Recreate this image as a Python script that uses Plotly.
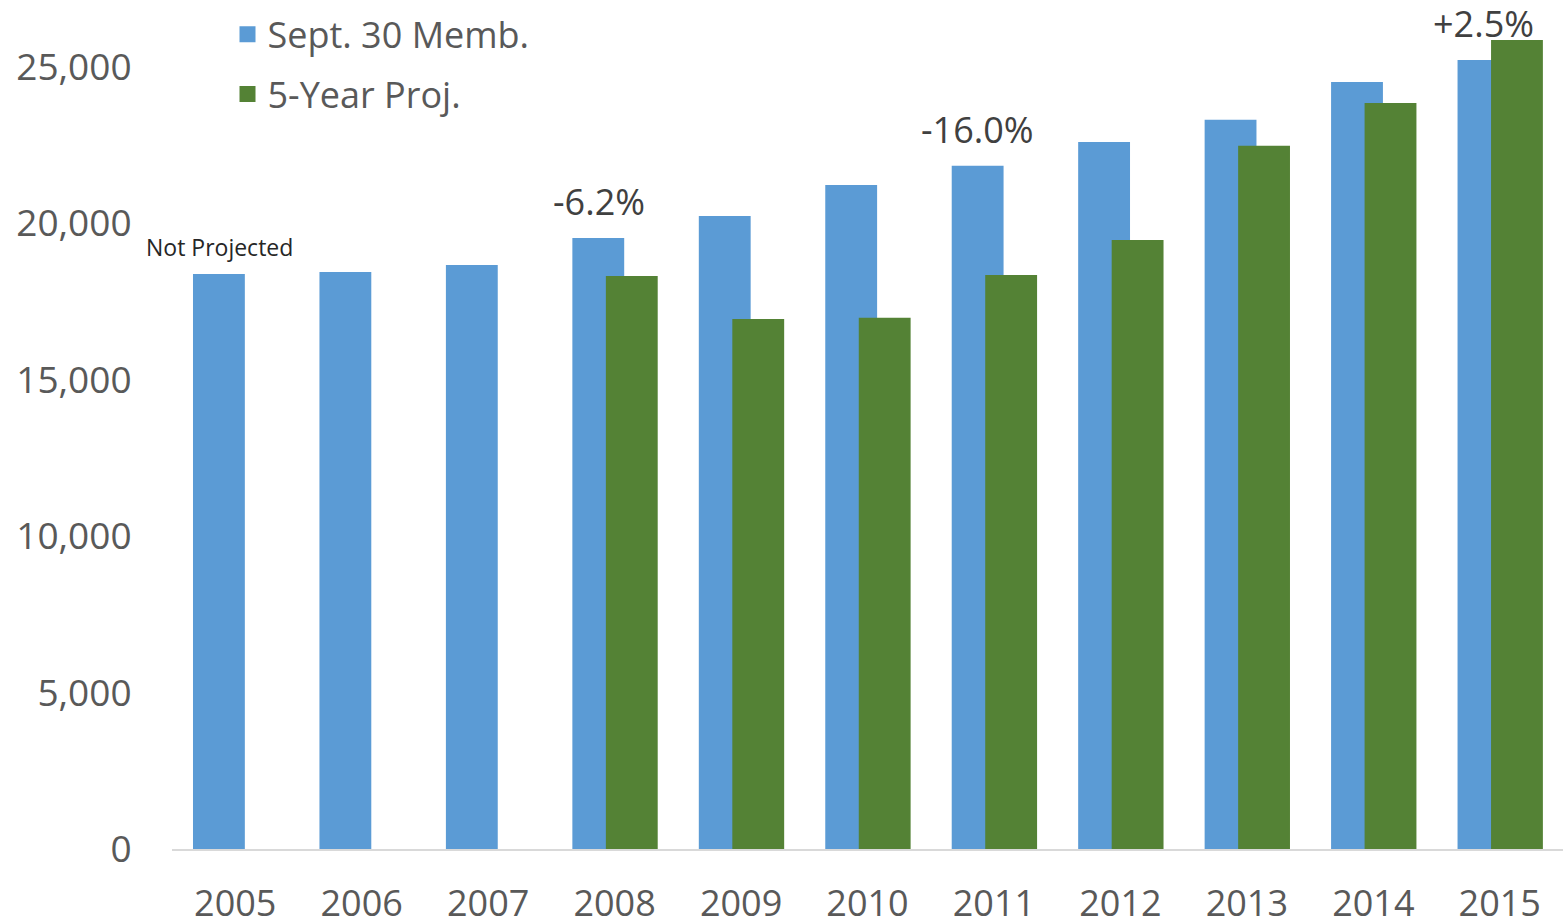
import plotly.graph_objects as go

years = ["2005", "2006", "2007", "2008", "2009", "2010", "2011", "2012", "2013", "2014", "2015"]
sept30_memb = [18380, 18450, 18670, 19530, 20240, 21230, 21840, 22600, 23310, 24520, 25220]
five_year_proj = [None, None, None, 18320, 16940, 16980, 18350, 19470, 22480, 23850, 25860]

label_years = ["2005", "2008", "2011", "2015"]
label_texts = ["Not Projected", "-6.2%", "-16.0%", "+2.5%"]
label_sizes = [23, 36, 36, 36]

BLUE = "#5B9BD5"
GREEN = "#548235"
FONT = "'Open Sans', Carlito, Calibri, sans-serif"
SIZE = 36

fig = go.Figure()
fig.add_trace(go.Bar(x=years, y=sept30_memb, name="Sept. 30 Memb.",
                     marker=dict(color=BLUE, line=dict(width=0)),
                     width=0.41, offset=-0.334, showlegend=False))
fig.add_trace(go.Bar(x=years, y=five_year_proj, name="5-Year Proj.",
                     marker=dict(color=GREEN, line=dict(width=0)),
                     width=0.41, offset=-0.069, showlegend=False))
# legend entries with larger square keys
fig.add_trace(go.Scatter(x=[None], y=[None], mode="markers", name="Sept. 30 Memb.",
                         marker=dict(symbol="square", size=23, color=BLUE),
                         legendgroup="a"))
fig.add_trace(go.Scatter(x=[None], y=[None], mode="markers", name="5-Year Proj.",
                         marker=dict(symbol="square", size=23, color=GREEN),
                         legendgroup="b"))

yr_index = {y: i for i, y in enumerate(years)}
for yr, txt, sz in zip(label_years, label_texts, label_sizes):
    i = yr_index[yr]
    v = sept30_memb[i]
    fig.add_annotation(x=i, y=v, text=txt, showarrow=False,
                       xanchor="center", yanchor="bottom",
                       xshift=-16, yshift=9 if sz < 30 else 10,
                       font=dict(family=FONT, size=sz,
                                 color="#262626" if sz < 30 else "#404040"))

fig.update_layout(
    width=1563, height=923,
    margin=dict(l=172, r=0, t=0, b=74),
    barmode="overlay",
    plot_bgcolor="white", paper_bgcolor="white",
    font=dict(family=FONT, color="#595959"),
    showlegend=True,
    legend=dict(x=0.0399, y=0.995, xanchor="left", yanchor="top",
                font=dict(family=FONT, size=SIZE, color="#595959"),
                itemsizing="trace",
                tracegroupgap=10, bgcolor="rgba(0,0,0,0)"),
    xaxis=dict(type="category", showgrid=False, showline=True, automargin=False,
               linecolor="#D9D9D9", linewidth=1.5,
               ticks="outside", ticklen=22, tickcolor="rgba(0,0,0,0)",
               tickfont=dict(family=FONT, size=SIZE, color="#595959"),
               range=[-0.5, 10.5]),
    yaxis=dict(range=[0, 27142], tickvals=[0, 5000, 10000, 15000, 20000, 25000],
               tickformat=",", showgrid=False, showline=False, zeroline=False,
               automargin=False,
               ticks="outside", ticklen=32, tickcolor="rgba(0,0,0,0)",
               tickfont=dict(family=FONT, size=37, color="#595959")),
)

fig.write_html("out.html", config={"displayModeBar": False},
               post_script="document.body.style.margin='0';document.body.style.overflow='hidden';")
